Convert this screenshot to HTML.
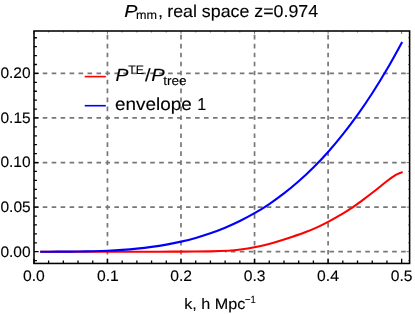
<!DOCTYPE html><html><head><meta charset="utf-8"><style>html,body{margin:0;padding:0;background:#fff}svg{display:block;will-change:transform}text{font-family:"Liberation Sans",sans-serif;fill:#000;stroke:#000;stroke-width:0.12px;text-rendering:geometricPrecision}</style></head><body>
<svg width="415" height="314" viewBox="0 0 415 314">
<rect width="415" height="314" fill="#fff"/>
<path d="M107.45 263.45 V31.00 M181.00 263.45 V31.00 M254.55 263.45 V31.00 M328.10 263.45 V31.00 M33.75 207.12 H409.60 M33.75 162.55 H409.60 M33.75 117.97 H409.60 M33.75 73.40 H409.60" stroke="#777" stroke-width="1.7" stroke-dasharray="4.6 4.36" fill="none"/>
<path d="M225.00 251.70 H409.60" stroke="#777" stroke-width="1.7" stroke-dasharray="4.6 4.36" fill="none" stroke-dashoffset="3.09"/>
<path d="M41.25 251.70 C52.29 251.70 87.84 251.70 107.45 251.70 C127.06 251.70 146.68 251.71 158.94 251.70 C171.19 251.69 172.42 251.67 181.00 251.61 C189.58 251.55 202.59 251.49 210.42 251.34 C218.25 251.19 222.98 251.02 228.00 250.72 C233.01 250.42 236.08 250.13 240.50 249.56 C244.93 249.00 249.95 248.22 254.55 247.33 C259.15 246.44 263.84 245.30 268.08 244.21 C272.32 243.13 275.93 242.06 280.00 240.82 C284.07 239.59 288.32 238.22 292.50 236.81 C296.68 235.40 300.90 233.97 305.08 232.35 C309.26 230.73 313.75 228.83 317.58 227.09 C321.42 225.36 324.36 223.91 328.10 221.92 C331.84 219.93 336.04 217.50 340.02 215.15 C343.99 212.80 348.22 210.30 351.93 207.84 C355.64 205.37 358.30 203.32 362.30 200.35 C366.30 197.38 371.78 193.23 375.91 190.01 C380.04 186.78 383.77 183.52 387.09 181.00 C390.41 178.49 393.41 176.38 395.84 174.94 C398.27 173.50 400.68 172.79 401.65 172.36" stroke="#f00" stroke-width="2.1" fill="none" stroke-linecap="square"/>
<path d="M41.25 251.70 C42.48 251.70 44.93 251.70 48.61 251.70 C52.29 251.69 58.42 251.68 63.32 251.65 C68.22 251.62 73.13 251.59 78.03 251.51 C82.93 251.44 87.84 251.35 92.74 251.22 C97.64 251.08 102.55 250.91 107.45 250.69 C112.35 250.46 117.26 250.19 122.16 249.85 C127.06 249.50 131.97 249.10 136.87 248.61 C141.77 248.12 146.68 247.56 151.58 246.89 C156.48 246.23 161.39 245.48 166.29 244.60 C171.19 243.73 176.10 242.76 181.00 241.64 C185.90 240.53 190.81 239.30 195.71 237.91 C200.61 236.52 205.52 235.00 210.42 233.31 C215.32 231.61 220.23 229.77 225.13 227.73 C230.03 225.69 234.94 223.49 239.84 221.06 C244.74 218.64 249.65 216.04 254.55 213.21 C259.45 210.37 264.36 207.33 269.26 204.04 C274.16 200.74 279.07 197.23 283.97 193.45 C288.87 189.66 293.78 185.63 298.68 181.31 C303.58 176.99 308.49 172.41 313.39 167.52 C318.29 162.62 323.20 157.45 328.10 151.94 C333.00 146.43 337.91 140.62 342.81 134.46 C347.71 128.29 352.62 121.81 357.52 114.94 C362.42 108.07 367.33 100.87 372.23 93.26 C377.13 85.65 382.04 77.69 386.94 69.29 C391.84 60.90 399.20 47.30 401.65 42.90" stroke="#00f" stroke-width="2.1" fill="none" stroke-linecap="square"/>
<rect x="34.00" y="31.00" width="375.60" height="232.45" fill="none" stroke="#000" stroke-width="1.55"/>
<path d="M33.90 263.45 v-4.60 M48.61 263.45 v-2.90 M63.32 263.45 v-2.90 M78.03 263.45 v-2.90 M92.74 263.45 v-2.90 M107.45 263.45 v-4.60 M122.16 263.45 v-2.90 M136.87 263.45 v-2.90 M151.58 263.45 v-2.90 M166.29 263.45 v-2.90 M181.00 263.45 v-4.60 M195.71 263.45 v-2.90 M210.42 263.45 v-2.90 M225.13 263.45 v-2.90 M239.84 263.45 v-2.90 M254.55 263.45 v-4.60 M269.26 263.45 v-2.90 M283.97 263.45 v-2.90 M298.68 263.45 v-2.90 M313.39 263.45 v-2.90 M328.10 263.45 v-4.60 M342.81 263.45 v-2.90 M357.52 263.45 v-2.90 M372.23 263.45 v-2.90 M386.94 263.45 v-2.90 M401.65 263.45 v-4.60 M34.00 260.62 h2.90 M34.00 251.70 h4.60 M34.00 242.78 h2.90 M34.00 233.87 h2.90 M34.00 224.95 h2.90 M34.00 216.04 h2.90 M34.00 207.12 h4.60 M34.00 198.21 h2.90 M34.00 189.29 h2.90 M34.00 180.38 h2.90 M34.00 171.46 h2.90 M34.00 162.55 h4.60 M34.00 153.63 h2.90 M34.00 144.72 h2.90 M34.00 135.80 h2.90 M34.00 126.89 h2.90 M34.00 117.97 h4.60 M34.00 109.06 h2.90 M34.00 100.14 h2.90 M34.00 91.23 h2.90 M34.00 82.31 h2.90 M34.00 73.40 h4.60 M34.00 64.49 h2.90 M34.00 55.57 h2.90 M34.00 46.66 h2.90 M34.00 37.74 h2.90" stroke="#000" stroke-width="1.3" fill="none"/>
<path d="M33.90 31.00 v2.90 M48.61 31.00 v1.50 M63.32 31.00 v1.50 M78.03 31.00 v1.50 M92.74 31.00 v1.50 M107.45 31.00 v2.90 M122.16 31.00 v1.50 M136.87 31.00 v1.50 M151.58 31.00 v1.50 M166.29 31.00 v1.50 M181.00 31.00 v2.90 M195.71 31.00 v1.50 M210.42 31.00 v1.50 M225.13 31.00 v1.50 M239.84 31.00 v1.50 M254.55 31.00 v2.90 M269.26 31.00 v1.50 M283.97 31.00 v1.50 M298.68 31.00 v1.50 M313.39 31.00 v1.50 M328.10 31.00 v2.90 M342.81 31.00 v1.50 M357.52 31.00 v1.50 M372.23 31.00 v1.50 M386.94 31.00 v1.50 M401.65 31.00 v2.90 M409.60 260.62 h-1.50 M409.60 251.70 h-2.90 M409.60 242.78 h-1.50 M409.60 233.87 h-1.50 M409.60 224.95 h-1.50 M409.60 216.04 h-1.50 M409.60 207.12 h-2.90 M409.60 198.21 h-1.50 M409.60 189.29 h-1.50 M409.60 180.38 h-1.50 M409.60 171.46 h-1.50 M409.60 162.55 h-2.90 M409.60 153.63 h-1.50 M409.60 144.72 h-1.50 M409.60 135.80 h-1.50 M409.60 126.89 h-1.50 M409.60 117.97 h-2.90 M409.60 109.06 h-1.50 M409.60 100.14 h-1.50 M409.60 91.23 h-1.50 M409.60 82.31 h-1.50 M409.60 73.40 h-2.90 M409.60 64.49 h-1.50 M409.60 55.57 h-1.50 M409.60 46.66 h-1.50 M409.60 37.74 h-1.50" stroke="#000" stroke-width="0.55" fill="none"/>
<text transform="translate(22.98 281.10) scale(1.0250 1)" font-size="15.30">0.0</text>
<text transform="translate(97.02 281.10) scale(1.0250 1)" font-size="15.30">0.1</text>
<text transform="translate(170.17 281.10) scale(1.0250 1)" font-size="15.30">0.2</text>
<text transform="translate(243.69 281.10) scale(1.0250 1)" font-size="15.30">0.3</text>
<text transform="translate(317.11 281.10) scale(1.0250 1)" font-size="15.30">0.4</text>
<text transform="translate(390.76 281.10) scale(1.0250 1)" font-size="15.30">0.5</text>
<text transform="translate(0.41 256.60) scale(1.0150 1)" font-size="15.30">0.00</text>
<text transform="translate(0.47 212.03) scale(1.0150 1)" font-size="15.30">0.05</text>
<text transform="translate(0.41 167.45) scale(1.0150 1)" font-size="15.30">0.10</text>
<text transform="translate(0.47 122.87) scale(1.0150 1)" font-size="15.30">0.15</text>
<text transform="translate(0.41 78.30) scale(1.0150 1)" font-size="15.30">0.20</text>
<text transform="translate(124.16 16.90) scale(1.1402 1)" font-size="17.30" font-style="italic">P</text>
<text transform="translate(136.05 19.20) scale(1.0503 1)" font-size="12.00">mm</text>
<text transform="translate(158.06 16.90) scale(1.0600 1)" font-size="17.30">,</text>
<text transform="translate(167.24 16.90) scale(1.0301 1)" font-size="17.30">real space z=0.974</text>
<text transform="translate(184.24 309.00) scale(1.0643 1)" font-size="15.20">k, h Mpc</text>
<text transform="translate(244.95 303.20) scale(0.8960 1)" font-size="10.50">−1</text>
<path d="M84.7 76.6 H105.8" stroke="#f00" stroke-width="1.6"/>
<path d="M84.7 105.7 H105.8" stroke="#00f" stroke-width="1.6"/>
<text transform="translate(115.38 80.60) scale(1.1028 1)" font-size="17.60" font-style="italic">P</text>
<text transform="translate(128.15 73.70) scale(0.9975 1)" font-size="12.30">TE</text>
<text transform="translate(145.00 80.60) scale(1.1487 1)" font-size="17.60">/</text>
<text transform="translate(151.25 80.60) scale(1.1480 1)" font-size="17.60" font-style="italic">P</text>
<text transform="translate(163.20 85.00) scale(1.0604 1)" font-size="12.80">tree</text>
<text transform="translate(114.94 109.90) scale(1.0813 1)" font-size="17.50">envelope</text>
<text transform="translate(197.23 109.90) scale(0.9200 1)" font-size="17.50">1</text>
</svg></body></html>
